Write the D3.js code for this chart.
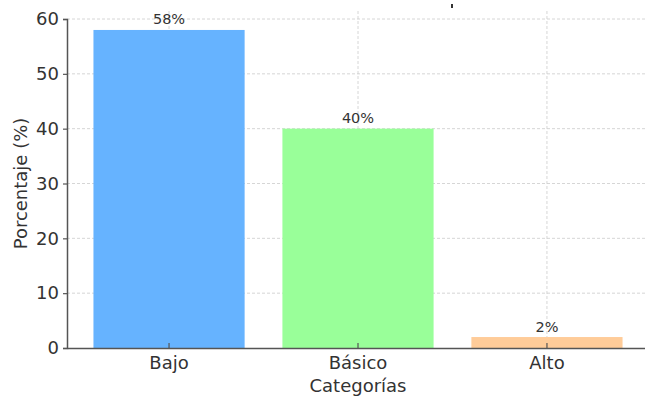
<!DOCTYPE html>
<html>
<head>
<meta charset="utf-8">
<script src="https://cdn.jsdelivr.net/npm/d3@7"></script>
<style>
  html, body { margin: 0; padding: 0; background: #fff; }
  svg { display: block; font-family: "DejaVu Sans", sans-serif; }
</style>
</head>
<body>
<svg id="chart" width="645" height="396"></svg>
<script>
// Distribution by level (percent)
const categories = ["Bajo", "Básico", "Alto"];
const values = [58, 40, 2];
const barColors = ["#66b3ff", "#99ff99", "#ffcc99"];
const yTicks = [0, 10, 20, 30, 40, 50, 60];

const svg = d3.select("#chart");
const plot = { left: 67, right: 649, top: 19, bottom: 348 };

// Band layout: bar width 0.8 of the step, 0.14 step padding at each outer edge
const x = d3.scaleBand()
  .domain(categories)
  .range([plot.left, plot.right])
  .paddingInner(0.2)
  .paddingOuter(0.14);
const y = d3.scaleLinear().domain([0, 60]).range([plot.bottom, plot.top]);

const textColor = "#333333";
const gridColor = "#cccccc";
const cx = d => x(d) + x.bandwidth() / 2;

// Grid lines
const grid = svg.append("g");
grid.selectAll("line.h").data(yTicks.slice(1)).join("line")
  .attr("x1", plot.left).attr("x2", plot.right)
  .attr("y1", d => y(d)).attr("y2", d => y(d))
  .attr("stroke", gridColor).attr("stroke-width", 0.8)
  .attr("stroke-dasharray", "3,2");
grid.selectAll("line.v").data(categories).join("line")
  .attr("x1", cx).attr("x2", cx)
  .attr("y1", plot.top - 8).attr("y2", plot.bottom)
  .attr("stroke", gridColor).attr("stroke-width", 0.8)
  .attr("stroke-dasharray", "3,2");

// Bars
svg.append("g").selectAll("rect").data(values).join("rect")
  .attr("x", (d, i) => x(categories[i]))
  .attr("width", x.bandwidth())
  .attr("y", d => y(d))
  .attr("height", d => plot.bottom - y(d))
  .attr("fill", (d, i) => barColors[i]);

// Value labels
svg.append("g").selectAll("text").data(values).join("text")
  .attr("x", (d, i) => cx(categories[i]))
  .attr("y", d => y(d) - 5.5)
  .attr("text-anchor", "middle")
  .attr("font-size", 14.5)
  .attr("fill", textColor)
  .text(d => d + "%");

// Y axis
const yAxis = d3.axisLeft(y).tickValues(yTicks).tickSize(4).tickPadding(4);
const gy = svg.append("g").attr("transform", `translate(${plot.left},0)`).call(yAxis);
gy.select(".domain").attr("stroke", "#555").attr("stroke-width", 1.5);
gy.selectAll(".tick line").attr("stroke", "#555").attr("stroke-width", 1.2);
gy.selectAll(".tick text").attr("font-size", 18).attr("fill", textColor)
  .attr("font-family", "DejaVu Sans");

// X axis (ticks pointing inward)
const xAxis = d3.axisBottom(x).tickSize(-5).tickPadding(8).tickSizeOuter(0);
const gx = svg.append("g").attr("transform", `translate(0,${plot.bottom})`).call(xAxis);
gx.select(".domain").attr("stroke", "#555").attr("stroke-width", 1.5);
gx.selectAll(".tick line").attr("stroke", "#555").attr("stroke-width", 1.2);
gx.selectAll(".tick text").attr("font-size", 18).attr("fill", textColor)
  .attr("font-family", "DejaVu Sans");

// Axis titles
svg.append("text")
  .attr("x", cx("Básico"))
  .attr("y", 392)
  .attr("text-anchor", "middle")
  .attr("font-size", 18).attr("fill", textColor)
  .text("Categorías");

svg.append("text")
  .attr("transform", `translate(27,${(plot.top + plot.bottom) / 2}) rotate(-90)`)
  .attr("text-anchor", "middle")
  .attr("font-size", 18).attr("fill", textColor)
  .text("Porcentaje (%)");

// Title remnant at the top edge
svg.append("rect")
  .attr("x", 451).attr("y", 4)
  .attr("width", 2).attr("height", 4)
  .attr("fill", textColor);
</script>
</body>
</html>
